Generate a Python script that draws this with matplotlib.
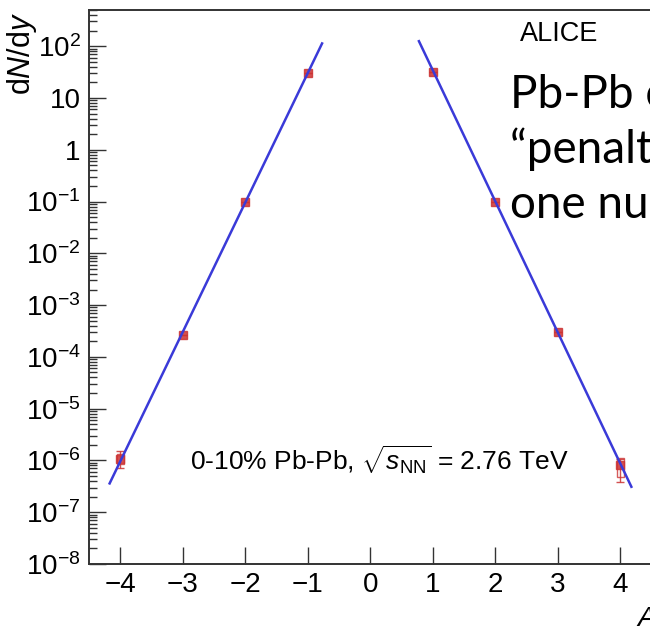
import numpy as np
import matplotlib.pyplot as plt
from matplotlib.patches import Rectangle
from matplotlib.ticker import FixedLocator, FixedFormatter, NullLocator

plt.rcParams['font.family'] = ['Liberation Sans', 'DejaVu Sans']
plt.rcParams['mathtext.fontset'] = 'custom'
plt.rcParams['mathtext.rm'] = 'Liberation Sans'
plt.rcParams['mathtext.it'] = 'Liberation Sans:italic'
plt.rcParams['mathtext.bf'] = 'Liberation Sans:bold'

# mass number (negative = anti-nuclei) and measured dN/dy
mass_a = [-4, -3, -2, -1, 1, 2, 3, 4]
dndy = [1.07e-6, 2.6e-4, 0.096, 31.0, 31.5, 0.097, 3.0e-4, 8.0e-7]
stat_lo = [0.35e-6, 0, 0, 0, 0, 0, 0, 0.41e-6]
stat_hi = [0.45e-6, 0, 0, 0, 0, 0, 0, 0.28e-6]
sys_lo = [0.2e-6, 0, 0, 0, 0, 0, 0, 0.33e-6]
sys_hi = [0.25e-6, 0, 0, 0, 0, 0, 0, 0.3e-6]

# exponential fits (straight in log scale), end points
fit_left_a = [-4.17, -0.77]
fit_left_y = [3.6e-7, 113]
fit_right_a = [0.78, 4.18]
fit_right_y = [125, 3.1e-7]

ytick_vals = [1e-8, 1e-7, 1e-6, 1e-5, 1e-4, 1e-3, 1e-2, 1e-1, 1, 10, 100]
ytick_labels = [r'$10^{-8}$', r'$10^{-7}$', r'$10^{-6}$', r'$10^{-5}$', r'$10^{-4}$',
                r'$10^{-3}$', r'$10^{-2}$', r'$10^{-1}$', '1', '10', r'$10^{2}$']
xtick_vals = [-4, -3, -2, -1, 0, 1, 2, 3, 4]
xtick_labels = ['\u22124', '\u22123', '\u22122', '\u22121', '0', '1', '2', '3', '4']

fig = plt.figure(figsize=(6.5, 6.26), dpi=100)
ax = fig.add_axes([89/650, 62/626, 568/650, 554/626])

blue = '#3a3ad8'
red = '#cc3333'
ax.plot(fit_left_a, fit_left_y, color=blue, lw=1.8, zorder=3)
ax.plot(fit_right_a, fit_right_y, color=blue, lw=1.8, zorder=3)

for a, y, lo, hi in zip(mass_a, dndy, sys_lo, sys_hi):
    if lo > 0:
        ax.add_patch(Rectangle((a - 0.055, y - lo), 0.11, lo + hi, fill=False,
                               edgecolor=red, lw=1.0, alpha=0.8, zorder=2))
ax.errorbar(mass_a, dndy, yerr=[stat_lo, stat_hi], fmt='s', color=red, ms=5.5,
            mec=red, alpha=0.85, elinewidth=1.0, capsize=3, capthick=1.0, zorder=2)

ax.set_yscale('log')
ax.set_xlim(-4.5, 4.59)
ax.set_ylim(1e-8, 500)

ax.yaxis.set_major_locator(FixedLocator(ytick_vals))
ax.yaxis.set_major_formatter(FixedFormatter(ytick_labels))
minor = [m * 10.0**e for e in range(-8, 3) for m in range(2, 10)]
ax.yaxis.set_minor_locator(FixedLocator(minor))
ax.xaxis.set_major_locator(FixedLocator(xtick_vals))
ax.xaxis.set_major_formatter(FixedFormatter(xtick_labels))
ax.xaxis.set_minor_locator(NullLocator())

ax.tick_params(axis='both', which='major', direction='in', length=12, width=1.0,
               labelsize=20, pad=6, color='#333333')
ax.tick_params(axis='y', which='minor', direction='in', length=6, width=1.0, color='#333333')
for s in ax.spines.values():
    s.set_color('#333333')
    s.set_linewidth(1.4)

fig.text(22/650, 1 - 12/626, r'd$\it{N}$/d$\it{y}$', rotation=90, ha='center', va='top', fontsize=22)
fig.text(636/650, 1 - 606/626, r'$\it{A}$', ha='left', va='top', fontsize=20)

fig.text(520/650, 1 - 34/626, 'ALICE', ha='left', va='center', fontsize=19.5)
ax.text(-2.88, 1e-6, r'0-10% Pb-Pb, $\sqrt{s_{\rm NN}}$ = 2.76 TeV', ha='left', va='center', fontsize=19)

slide_lines = ['Pb-Pb collisions', '\u201cpenalty factor\u201d', 'one nucleon']
for i, line in enumerate(slide_lines):
    fig.text(510/650, 1 - (108 + 55*i)/626, line, fontsize=33, family='Lato',
             ha='left', va='baseline', color='black')

fig.savefig('out.png', dpi=100)
